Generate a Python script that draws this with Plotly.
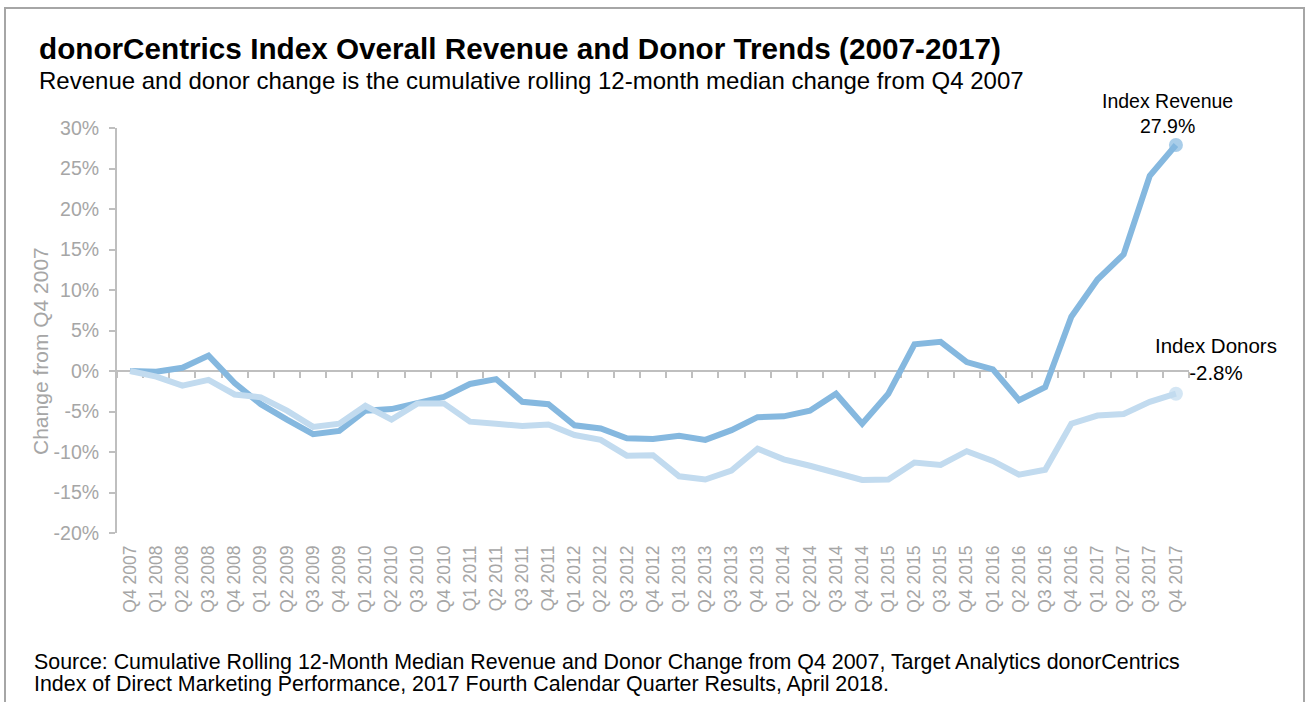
import plotly.graph_objects as go

quarters = ["Q4 2007",
            "Q1 2008", "Q2 2008", "Q3 2008", "Q4 2008",
            "Q1 2009", "Q2 2009", "Q3 2009", "Q4 2009",
            "Q1 2010", "Q2 2010", "Q3 2010", "Q4 2010",
            "Q1 2011", "Q2 2011", "Q3 2011", "Q4 2011",
            "Q1 2012", "Q2 2012", "Q3 2012", "Q4 2012",
            "Q1 2013", "Q2 2013", "Q3 2013", "Q4 2013",
            "Q1 2014", "Q2 2014", "Q3 2014", "Q4 2014",
            "Q1 2015", "Q2 2015", "Q3 2015", "Q4 2015",
            "Q1 2016", "Q2 2016", "Q3 2016", "Q4 2016",
            "Q1 2017", "Q2 2017", "Q3 2017", "Q4 2017"]

revenue = [0.0,
           -0.1, 0.4, 1.9, -1.5,
           -4.1, -6.0, -7.8, -7.4,
           -4.9, -4.7, -3.9, -3.2,
           -1.6, -1.0, -3.8, -4.1,
           -6.7, -7.1, -8.3, -8.4,
           -8.0, -8.5, -7.3, -5.7,
           -5.6, -4.9, -2.8, -6.5,
           -2.8, 3.3, 3.6, 1.1,
           0.2, -3.6, -2.0, 6.7,
           11.3, 14.4, 24.1, 27.9]

donors = [0.0,
          -0.7, -1.8, -1.1, -2.9,
          -3.25, -4.9, -6.9, -6.5,
          -4.3, -6.0, -4.0, -4.0,
          -6.25, -6.5, -6.8, -6.6,
          -7.9, -8.5, -10.45, -10.4,
          -13.0, -13.4, -12.3, -9.6,
          -10.9, -11.7, -12.6, -13.45,
          -13.4, -11.3, -11.6, -9.9,
          -11.1, -12.8, -12.2, -6.5,
          -5.5, -5.3, -3.8, -2.8]

y_ticks = [-20, -15, -10, -5, 0, 5, 10, 15, 20, 25, 30]

title_text = "donorCentrics Index Overall Revenue and Donor Trends (2007-2017)"
subtitle_text = "Revenue and donor change is the cumulative rolling 12-month median change from Q4 2007"
source_lines = ["Source: Cumulative Rolling 12-Month Median Revenue and Donor Change from Q4 2007, Target Analytics donorCentrics",
                "Index of Direct Marketing Performance, 2017 Fourth Calendar Quarter Results, April 2018."]

REV_COLOR = "#85b8df"
DON_COLOR = "#c2dbef"
AXIS_GRAY = "#bfbfbf"
TICK_GRAY = "#a6a6a6"
FONT = "Liberation Sans, Arial, sans-serif"

W, H = 1308, 702
L, R, T, B = 117, 119, 128, 169
PW, PH = W - L - R, H - T - B


def px_x(p):
    return (p - L) / PW


def px_y(p):
    return (H - B - p) / PH


n = len(quarters)
end_sizes = [0] * (n - 1) + [14]

fig = go.Figure()
fig.add_trace(go.Scatter(
    x=quarters, y=revenue, mode="lines+markers", name="Index Revenue",
    line=dict(color=REV_COLOR, width=6),
    marker=dict(size=end_sizes, color=REV_COLOR, line=dict(width=0)),
    xaxis="x", yaxis="y", showlegend=False, hoverinfo="x+y"))
fig.add_trace(go.Scatter(
    x=quarters, y=donors, mode="lines+markers", name="Index Donors",
    line=dict(color=DON_COLOR, width=6),
    marker=dict(size=end_sizes, color=DON_COLOR, line=dict(width=0)),
    xaxis="x2", yaxis="y", showlegend=False, hoverinfo="x+y"))

ymin, ymax = y_ticks[0], y_ticks[-1]
zero_pos = (0 - ymin) / (ymax - ymin)

fig.update_layout(
    width=W, height=H, autosize=False,
    margin=dict(l=L, r=R, t=T, b=B),
    paper_bgcolor="white", plot_bgcolor="white",
    font=dict(family=FONT, color="black"),
    xaxis=dict(
        type="category", categoryorder="array", categoryarray=quarters,
        range=[-0.5, n - 0.5], anchor="free", position=zero_pos,
        showline=True, linecolor=AXIS_GRAY, linewidth=2,
        ticks="outside", tickson="boundaries", ticklen=6, tickwidth=1.5,
        tickcolor=AXIS_GRAY, showticklabels=False, showgrid=False,
        zeroline=False, layer="below traces"),
    xaxis2=dict(
        type="category", categoryorder="array", categoryarray=quarters,
        range=[-0.5, n - 0.5], overlaying="x", anchor="y", side="bottom",
        showline=False, ticks="", showticklabels=True, tickangle=-90,
        tickfont=dict(family=FONT, size=17.5, color=TICK_GRAY),
        ticklabelstandoff=8,
        showgrid=False, zeroline=False),
    yaxis=dict(
        range=[ymin, ymax], tickvals=y_ticks,
        ticktext=[f"{v}%" for v in y_ticks],
        showline=True, linecolor=AXIS_GRAY, linewidth=2,
        ticks="outside", ticklen=6, tickwidth=1.5, tickcolor=AXIS_GRAY,
        tickfont=dict(family=FONT, size=19.5, color=TICK_GRAY),
        showgrid=False, zeroline=False, ticklabelstandoff=6),
)

annotations = [
    dict(text=f"<b>{title_text}</b>",
         xref="paper", yref="paper", x=px_x(37), y=px_y(48),
         xanchor="left", yanchor="middle", showarrow=False,
         font=dict(family=FONT, size=29.7, color="black")),
    dict(text=subtitle_text,
         xref="paper", yref="paper", x=px_x(37), y=px_y(80),
         xanchor="left", yanchor="middle", showarrow=False,
         font=dict(family=FONT, size=24, color="black")),
    dict(text="Change from Q4 2007", textangle=-90,
         xref="paper", yref="paper", x=px_x(40), y=px_y(351),
         xanchor="center", yanchor="middle", showarrow=False,
         font=dict(family=FONT, size=21, color=TICK_GRAY)),
    dict(text=f"Index Revenue<br>{revenue[-1]}%",
         xref="x", yref="y", x=quarters[-1], y=revenue[-1],
         xanchor="center", xshift=-8, yanchor="bottom", yshift=6, showarrow=False,
         font=dict(family=FONT, size=19.5, color="black")),
    dict(text=f"Index Donors<br>{donors[-1]}%",
         xref="x", yref="y", x=quarters[-1], y=donors[-1],
         xanchor="center", xshift=40, yanchor="bottom", yshift=8, showarrow=False,
         font=dict(family=FONT, size=20.5, color="black")),
    dict(text=source_lines[0],
         xref="paper", yref="paper", x=px_x(32), y=px_y(662),
         xanchor="left", yanchor="middle", showarrow=False,
         font=dict(family=FONT, size=21.4, color="black")),
    dict(text=source_lines[1],
         xref="paper", yref="paper", x=px_x(32), y=px_y(684),
         xanchor="left", yanchor="middle", showarrow=False,
         font=dict(family=FONT, size=21.4, color="black")),
]
fig.update_layout(annotations=annotations)

fig.add_shape(type="rect", xref="paper", yref="paper",
              x0=px_x(5), x1=px_x(1304),
              y0=px_y(720), y1=px_y(8),
              line=dict(color="#a6a6a6", width=2), fillcolor="rgba(0,0,0,0)",
              layer="below")

fig.write_html("out.html",
               config={"displayModeBar": False},
               post_script="document.body.style.margin='0';document.body.style.padding='0';document.body.style.overflow='hidden';")
